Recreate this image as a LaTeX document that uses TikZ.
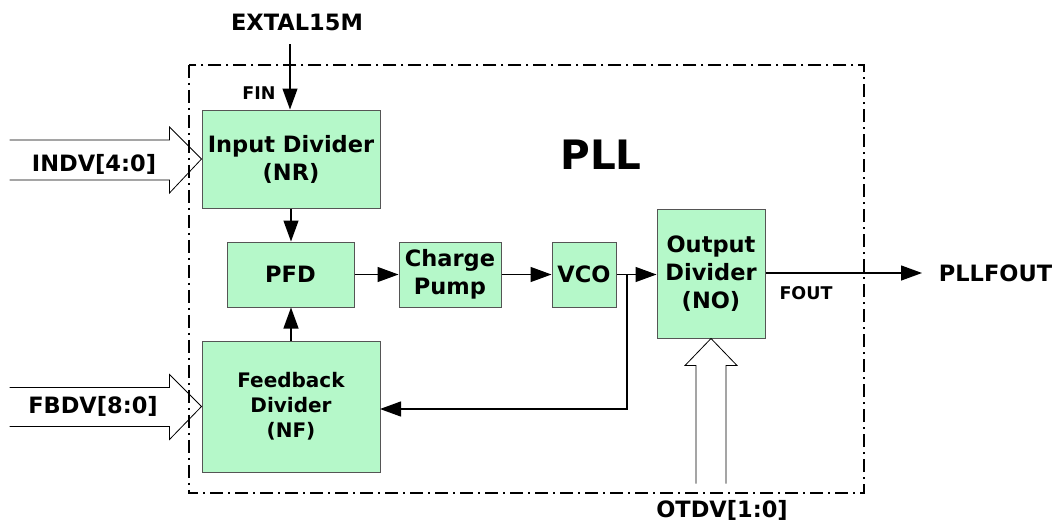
\documentclass[tikz,border=0pt]{standalone}
\usepackage{fontspec}
\setmainfont{DejaVu Sans}
\usetikzlibrary{arrows.meta,calc}
\definecolor{boxgreen}{HTML}{B5F8C9}
\definecolor{boxedge}{HTML}{555555}
\tikzset{
  blk/.style={draw=boxedge, line width=1pt, fill=boxgreen, align=center, inner sep=0pt,
    font=\bfseries\fontsize{22.5}{28}\selectfont},
  sig/.style={line width=1.3pt, -{Triangle[length=21pt,width=15pt]}},
  lbl/.style={font=\bfseries\fontsize{22.5}{25}\selectfont, inner sep=0pt},
  small/.style={font=\bfseries\fontsize{17.5}{18}\selectfont, inner sep=0pt},
  bus/.style={line width=0.8pt, draw=black, fill=white},
  frame/.style={line width=2pt, dash pattern=on 13pt off 5pt on 2pt off 5pt}
}
\begin{document}
\begin{tikzpicture}[x=1pt,y=-1pt]
\useasboundingbox (0,0) rectangle (1054,525);
% blocks
\node[blk, minimum width=178pt, minimum height=98pt] (in) at (291,159) {Input Divider\\(NR)};
\node[blk, minimum width=127pt, minimum height=65pt] (pfd) at (290.5,274.5) {PFD};
\node[blk, minimum width=178pt, minimum height=131pt, font=\bfseries\fontsize{20}{25}\selectfont] (fb) at (291,406.5) {Feedback\\Divider\\(NF)};
\node[blk, minimum width=102pt, minimum height=65pt] (cp) at (450,274.5) {Charge\\Pump};
\node[blk, minimum width=64pt, minimum height=65pt] (vco) at (584,274.5) {VCO};
\node[blk, minimum width=108pt, minimum height=129pt] (od) at (711,273.5) {Output\\Divider\\(NO)};
% bus arrows
\draw[bus] ($(in.west)+(-192,-19)$) -- ($(in.west)+(-32,-19)$) -- ($(in.west)+(-32,-32)$) -- (in.west)
  -- ($(in.west)+(-32,34)$) -- ($(in.west)+(-32,21)$) -- ($(in.west)+(-192,21)$);
\draw[bus] ($(fb.west)+(-192,-19)$) -- ($(fb.west)+(-32,-19)$) -- ($(fb.west)+(-32,-32)$) -- (fb.west)
  -- ($(fb.west)+(-32,33)$) -- ($(fb.west)+(-32,20)$) -- ($(fb.west)+(-192,20)$);
\draw[bus] ($(od.south)+(-15,145)$) -- ($(od.south)+(-15,27)$) -- ($(od.south)+(-26,27)$) -- (od.south)
  -- ($(od.south)+(26,27)$) -- ($(od.south)+(15,27)$) -- ($(od.south)+(15,145)$);
% frame
\node[inner sep=0pt, minimum width=675pt, minimum height=428pt] (pll) at (526.5,279) {};
\draw[frame] (pll.north west) rectangle (pll.south east);
% signals
\coordinate (ext) at (290,44);
\draw[sig] (ext) -- (ext |- in.north);
\draw[sig] (in.south) -- (in.south |- pfd.north);
\draw[sig] (fb.north) -- (fb.north |- pfd.south);
\draw[sig] (pfd.east) -- (cp.west);
\draw[sig] (cp.east) -- (vco.west);
\draw[sig] (vco.east) -- (vco.east -| od.west);
\coordinate (br) at (627,274.5);
\coordinate (fbin) at (380,409);
\draw[sig] (br) |- (fbin);
\coordinate (outend) at (922,273);
\draw[sig] (od.east |- outend) -- (outend);
% labels
\node[lbl] (lext) at (297,22) {EXTAL15M};
\node[small] (lfin) at (259,93) {FIN};
\node[lbl] (lindv) at (94,164) {INDV[4:0]};
\node[lbl] (lfbdv) at (93,406) {FBDV[8:0]};
\node[font=\bfseries\fontsize{40.5}{42}\selectfont, inner sep=0pt] (lpll) at (601,155) {PLL};
\node[small] (lfout) at (806,293) {FOUT};
\node[lbl] (lpllfout) at (995.5,273) {PLLFOUT};
\node[lbl] (lotdv) at (722,510) {OTDV[1:0]};
\end{tikzpicture}
\end{document}
